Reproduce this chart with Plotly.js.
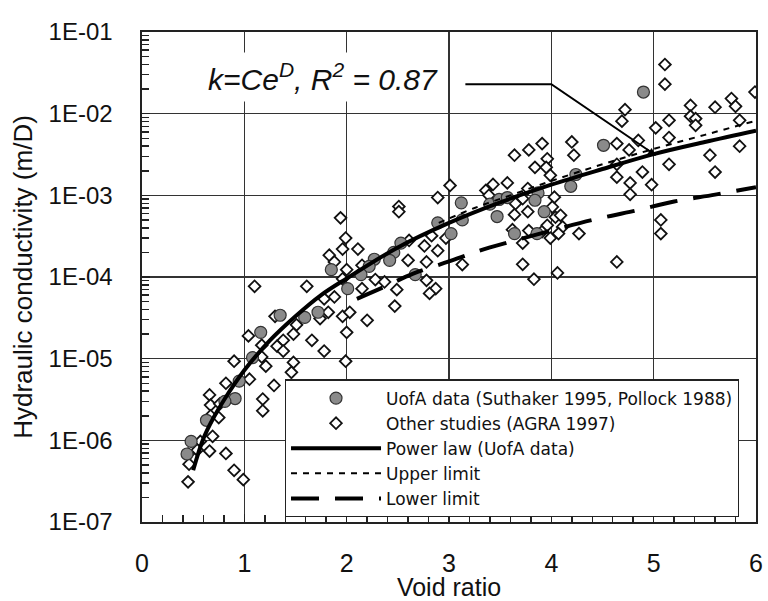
<!DOCTYPE html>
<html>
<head>
<meta charset="utf-8">
<script src="https://cdn.plot.ly/plotly-3.0.1.min.js"></script>
<style>html,body{margin:0;padding:0;background:#fff}</style>
</head>
<body>
<div id="chart" style="width:768px;height:601px"></div>
<script>
// UofA data (circles)
const uofaVoid = [1.35,1.16,1.08,0.95,0.91,0.81,0.63,0.48,0.44,1.59,1.72,2.01,2.89,2.53,2.46,2.42,2.27,2.22,2.14,1.85,2.67,3.12,3.13,3.02,3.40,3.47,3.49,3.57,3.87,3.84,3.93,3.64,3.86,4.24,4.19,4.90,4.51];
const uofaK = [3.4e-5,2.1e-5,1.03e-5,5.3e-6,3.25e-6,3.0e-6,1.76e-6,9.7e-7,6.8e-7,3.2e-5,3.7e-5,7.2e-5,4.6e-4,2.6e-4,2.0e-4,1.6e-4,1.65e-4,1.35e-4,1.07e-4,1.23e-4,1.07e-4,8.1e-4,5.0e-4,3.4e-4,7.8e-4,5.5e-4,8.9e-4,9.4e-4,1.07e-3,8.7e-4,6.3e-4,3.4e-4,3.4e-4,1.8e-3,1.29e-3,1.84e-2,4.1e-3];

// Other studies (diamonds)
const otherVoid = [1.10,1.61,1.30,1.78,1.88,1.04,1.17,1.38,1.32,1.38,1.51,1.48,1.66,1.78,1.74,1.82,1.96,2.00,1.99,0.90,1.17,1.21,1.05,1.48,1.46,1.29,0.82,0.66,0.67,0.76,0.67,0.75,1.18,1.18,0.69,0.57,0.66,0.82,0.45,0.54,0.46,0.90,0.99,0.45,
 2.89,2.51,2.51,1.94,1.99,1.96,1.83,1.88,2.11,2.00,1.96,2.15,2.28,2.15,2.37,2.49,2.47,2.60,2.78,2.76,2.89,2.97,2.83,2.78,2.87,2.81,2.03,2.20,
 3.01,3.64,3.78,3.91,3.96,3.84,3.95,3.99,3.57,3.43,3.36,3.39,3.77,3.72,3.65,3.77,3.64,3.62,3.78,3.91,4.01,4.04,4.09,4.11,4.07,
 4.20,4.22,4.03,3.96,3.72,3.99,4.27,3.72,3.83,4.06,3.13,2.61,
 5.11,5.11,4.72,4.69,4.64,4.76,4.85,5.02,5.15,5.15,5.15,5.36,5.36,5.41,5.41,5.60,5.76,5.80,5.84,5.99,5.84,5.55,5.60,4.64,4.64,4.77,4.77,4.89,4.98,5.07,5.07,4.64];
const otherK = [7.7e-5,7.7e-5,3.3e-5,5.4e-5,5.7e-5,1.9e-5,1.46e-5,1.68e-5,1.42e-5,1.24e-5,2.6e-5,2.0e-5,1.68e-5,1.24e-5,3.1e-5,3.7e-5,3.3e-5,2.1e-5,9.3e-6,9.3e-6,1.05e-5,8.1e-6,5.6e-6,9.0e-6,6.8e-6,4.7e-6,5.0e-6,3.6e-6,2.7e-6,2.8e-6,2.0e-6,1.9e-6,3.2e-6,2.3e-6,1.12e-6,9.7e-7,7.4e-7,6.9e-7,6.8e-7,7.6e-7,5.1e-7,4.3e-7,3.3e-7,3.1e-7,
 9.4e-4,7.3e-4,6.3e-4,5.3e-4,3.0e-4,2.2e-4,1.85e-4,1.53e-4,2.2e-4,1.23e-4,9.5e-5,1.39e-4,9.3e-5,7.2e-5,8.7e-5,7.0e-5,4.4e-5,1.6e-4,1.53e-4,2.4e-4,2.1e-4,3.0e-4,3.2e-4,9.1e-5,7.2e-5,6.3e-5,3.7e-5,2.95e-5,
 1.32e-3,3.1e-3,3.6e-3,4.3e-3,2.8e-3,2.2e-3,2.2e-3,1.76e-3,1.42e-3,1.36e-3,1.15e-3,1.0e-3,1.21e-3,9.1e-4,7.9e-4,6.3e-4,5.8e-4,3.8e-4,3.7e-4,3.6e-4,7.2e-4,5.4e-4,5.7e-4,4.1e-4,3.4e-4,
 4.5e-3,3.1e-3,9.5e-4,4.3e-4,2.6e-4,3.0e-4,3.4e-4,1.43e-4,9.4e-5,1.12e-4,1.42e-4,2.8e-4,
 4.0e-2,2.3e-2,1.12e-2,8.1e-3,4.3e-3,3.6e-3,4.7e-3,6.7e-3,8.3e-3,5.1e-3,2.4e-3,1.26e-2,9.3e-3,8.7e-3,7.2e-3,1.2e-2,1.53e-2,1.23e-2,8.3e-3,1.84e-2,4.0e-3,3.1e-3,1.93e-3,2.4e-3,1.67e-3,1.42e-3,1.03e-3,1.93e-3,1.35e-3,5.0e-4,3.4e-4,1.53e-4];

// Fitted / limit curves
const powerVoid = [0.5,0.6,0.7,0.8,1.0,1.25,1.5,1.75,2.0,2.5,3.0,3.5,4.0,4.5,5.0,5.5,6.0];
const powerK = [4.3e-7,1.05e-6,1.9e-6,3.1e-6,7.2e-6,1.67e-5,3.3e-5,6.0e-5,9.6e-5,2.3e-4,4.6e-4,8.2e-4,1.35e-3,2.1e-3,3.2e-3,4.5e-3,6.2e-3];
const upperVoid = [2.9,3.25,3.6,4.0,4.5,5.0,5.5,6.0];
const upperK = [4.6e-4,7.0e-4,1.0e-3,1.5e-3,2.4e-3,3.7e-3,5.5e-3,8.2e-3];
const lowerVoid = [2.1,2.35,2.65,3.0,3.3,3.6,4.0,4.4,4.8,5.2,5.6,6.0];
const lowerK = [5.4e-5,7.4e-5,1.1e-4,1.55e-4,2.1e-4,2.7e-4,3.7e-4,5.0e-4,6.4e-4,8.4e-4,1.02e-3,1.26e-3];

// Axis ticks
const yTickVals = [1e-7,1e-6,1e-5,1e-4,1e-3,1e-2,1e-1];
const yTickText = ['1E-07','1E-06','1E-05','1E-04','1E-03','1E-02','1E-01'];
const xTickVals = [0,1,2,3,4,5,6];

// Annotation text and leader
const fitLabel = '<i>k=Ce<sup>D</sup>, R<sup>2</sup> = 0.87</i>';
const leaderVoid = [3.16, 4.0, 5.02];
const leaderK = [2.29e-2, 2.29e-2, 3.1e-3];

const yMinor = [];
for (let d = -7; d < -1; d++) for (let m = 2; m <= 9; m++) yMinor.push(m * Math.pow(10, d));

const FONT = 'Liberation Sans, Arial, sans-serif';
const LEGFONT = 'DejaVu Sans, Liberation Sans, sans-serif';
const ink = '#111';

const traces = [
  {x: otherVoid, y: otherK, type: 'scatter', mode: 'markers', name: 'Other studies (AGRA 1997)', legendrank: 2,
   marker: {symbol: 'diamond', size: 9, color: '#fff', line: {color: '#111', width: 1.8}}},
  {x: uofaVoid, y: uofaK, type: 'scatter', mode: 'markers', name: 'UofA data (Suthaker 1995, Pollock 1988)', legendrank: 1,
   marker: {symbol: 'circle', size: 12, color: '#8a8a8a', line: {color: '#333', width: 1.2}}},
  {x: powerVoid, y: powerK, type: 'scatter', mode: 'lines', name: 'Power law (UofA data)', legendrank: 3,
   line: {color: '#000', width: 4, shape: 'spline'}},
  {x: upperVoid, y: upperK, type: 'scatter', mode: 'lines', name: 'Upper limit', legendrank: 4,
   line: {color: '#000', width: 2, dash: '6px,6px', shape: 'spline'}},
  {x: lowerVoid, y: lowerK, type: 'scatter', mode: 'lines', name: 'Lower limit', legendrank: 5,
   line: {color: '#000', width: 4, dash: '28px,16px', shape: 'spline'}},
  {x: leaderVoid, y: leaderK, type: 'scatter', mode: 'lines', showlegend: false, hoverinfo: 'skip',
   line: {color: '#000', width: 2}}
];

const n = leaderVoid.length;
const layout = {
  width: 768, height: 601,
  margin: {l: 142, r: 10, t: 32, b: 79},
  paper_bgcolor: '#fff', plot_bgcolor: '#fff',
  font: {family: FONT, color: ink},
  showlegend: true,
  xaxis: {
    range: [0, 6], tickmode: 'array', tickvals: xTickVals,
    ticks: 'inside', ticklen: 8, tickwidth: 1.5, tickcolor: '#222',
    showline: true, linecolor: '#222', linewidth: 1.6, mirror: true,
    showgrid: true, gridcolor: '#333', gridwidth: 1.2, zeroline: false,
    tickfont: {size: 25, color: ink}, ticklabelstandoff: 18,
    minor: {tickmode: 'linear', tick0: 0, dtick: 0.2, ticks: 'inside', ticklen: 7, tickwidth: 1.5, tickcolor: '#222', showgrid: false},
    title: {text: 'Void ratio', font: {size: 25, color: ink}, standoff: 0},
    automargin: false
  },
  yaxis: {
    type: 'log', range: [-7, -1], tickmode: 'array', tickvals: yTickVals, ticktext: yTickText,
    ticks: 'inside', ticklen: 8, tickwidth: 1.5, tickcolor: '#222',
    showline: true, linecolor: '#222', linewidth: 1.6, mirror: true,
    showgrid: true, gridcolor: '#333', gridwidth: 1.2, zeroline: false,
    tickfont: {size: 24, color: ink}, ticklabelstandoff: 23,
    minor: {tickmode: 'array', tickvals: yMinor, ticks: 'inside', ticklen: 7, tickwidth: 1.5, tickcolor: '#222', showgrid: false},
    title: {text: 'Hydraulic conductivity (m/D)', font: {size: 26, color: ink}, standoff: 8},
    automargin: true
  },
  legend: {
    x: 0.2326, y: 0.2912, xanchor: 'left', yanchor: 'top',
    bgcolor: '#fff', bordercolor: '#222', borderwidth: 1.2,
    font: {family: LEGFONT, size: 17, color: ink},
    itemwidth: 90, tracegroupgap: 0
  },
  annotations: [
    {xref: 'x', yref: 'y', x: 1.771, y: -1.557, text: fitLabel, showarrow: false,
     font: {family: FONT, size: 30, color: ink}, bgcolor: '#fff', borderpad: 5},
    {xref: 'x', yref: 'y', x: leaderVoid[n-1], y: Math.log10(leaderK[n-1]),
     axref: 'x', ayref: 'y',
     ax: leaderVoid[n-1] - 0.1 * (leaderVoid[n-1] - leaderVoid[n-2]),
     ay: Math.log10(leaderK[n-1]) - 0.1 * (Math.log10(leaderK[n-1]) - Math.log10(leaderK[n-2])),
     text: '', showarrow: true, arrowhead: 2, arrowsize: 1, arrowwidth: 1.5, arrowcolor: '#000'}
  ]
};

Plotly.newPlot('chart', traces, layout, {displayModeBar: false, staticPlot: true});
</script>
</body>
</html>
